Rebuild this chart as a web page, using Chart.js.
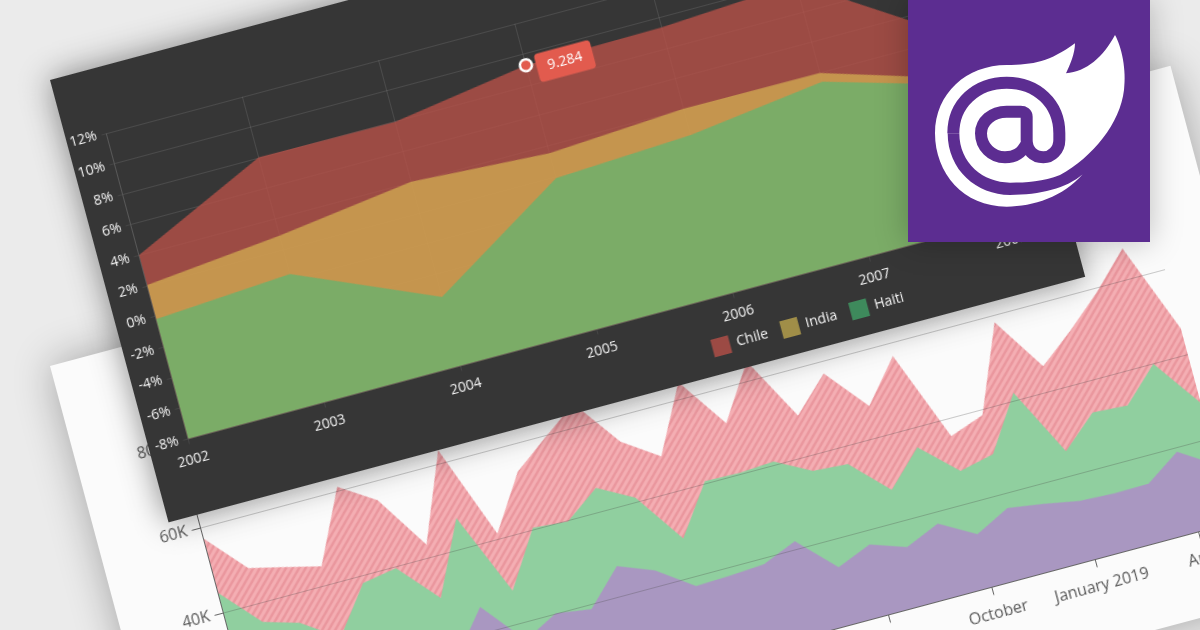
<!DOCTYPE html>
<html>
<head>
<meta charset="utf-8">
<script src="https://cdn.jsdelivr.net/npm/chart.js@4"></script>
<style>
  html, body { margin: 0; padding: 0; }
  body { width: 1200px; height: 630px; overflow: hidden; background: #ebebeb; position: relative; }
  .card { position: absolute; transform-origin: 0 0; transform: rotate(-15deg); }
  #lightCard { left: 50px; top: 366px; width: 1160px; height: 541px; background: #fbfbfb; box-shadow: 0 0 40px rgba(0,0,0,.3); }
  #darkCard { left: 49.5px; top: 80px; width: 949px; height: 458px; background: #363636; box-shadow: 0 0 30px rgba(0,0,0,.45); }
  #logo { position: absolute; left: 908px; top: 0; width: 242px; height: 242px; background: #5c2d91; box-shadow: 0 0 30px rgba(0,0,0,.25); }
  canvas { display: block; }
</style>
</head>
<body>
<div class="card" id="lightCard"><canvas id="lightChart" width="1160" height="541"></canvas></div>
<div class="card" id="darkCard"><canvas id="darkChart" width="949" height="458"></canvas></div>
<div id="logo">
  <svg width="242" height="242" viewBox="24 0 726 726">
    <path fill="#fff" d="M645 105C665 140 680 210 672 270C660 370 580 470 480 525C430 545 380 548 330 548C250 548 178 490 178 400L143 400C143 510 230 585 330 585C420 585 500 565 548 523C490 590 400 620 320 620C190 620 105 520 105 400C105 280 200 195 320 195C400 195 450 185 525 130C525 160 510 195 498 220C560 215 610 170 645 105Z"/>
    <path fill="none" stroke="#5c2d91" stroke-width="36" d="M160 400C160 310 230 248 320 248C410 248 478 310 478 400L478 420C478 450 455 472 430 472C400 472 380 450 380 420L380 350C380 340 372 335 362 335L320 335C275 335 243 365 243 400C243 440 275 472 315 472C345 472 365 460 380 430"/>
  </svg>
</div>
<script>
// dark chart
const years = ['2002', '2003', '2004', '2005', '2006', '2007', '2008'];
const chile = [4.03, 8.04, 7.97, 9.284, 9.37, 9.89, 4.06];
const india = [2.06, 2.92, 4.06, 3.53, 4.06, 4.0, 1.26];
const haiti = [-0.17, 0.41, -3.48, 1.9, 2.33, 3.44, 0.84];
const legendColors = ['#3e8a5c', '#a08e48', '#9c4a44'];

// light chart
const months = ['January 2017', 'February', 'March', 'April', 'May', 'June', 'July', 'August', 'September', 'October', 'November', 'December',
  'January 2018', 'February', 'March', 'April', 'May', 'June', 'July', 'August', 'September', 'October', 'November', 'December',
  'January 2019', 'February', 'March', 'April', 'May'];
const pinkValues = [57.6, 48.4, 46.4, 44.4, 61.1, 55.7, 43.0, 63.2, 41.2, 53.7, 59.7, 65.5, 54.3, 48.6, 64.0, 52.1, 64.6, 49.5, 57.3, 47.4, 57.1, 35.9, 38.7, 58.5, 45.9, 52.2, 59.2, 67.3, 46.1];
const greenValues = [44.7, 35.6, 33.2, 27.5, 38.2, 39.6, 30.3, 47.1, 27.7, 40.4, 39.7, 45.5, 41.0, 29.1, 40.5, 40.3, 40.8, 36.4, 35.8, 27.5, 35.4, 27.6, 29.4, 41.8, 25.7, 32.7, 32.2, 39.9, 28.4];
const purpleValues = [12, 14, 17, 15, 19, 18, 16.1, 26.0, 15.9, 20.1, 18.9, 26.9, 23.7, 17.8, 18.1, 18.6, 21.9, 13.5, 16.7, 13.9, 17.3, 12.6, 16.6, 15.4, 13.9, 13.5, 13.6, 19.0, 13.7];

const fontName = '"Open Sans", sans-serif';

// striped fill for the top area
function stripes() {
  const c = document.createElement('canvas');
  c.width = 8;
  c.height = 8;
  const g = c.getContext('2d');
  g.fillStyle = '#f4aeb3';
  g.fillRect(0, 0, 8, 8);
  g.strokeStyle = '#ea979e';
  g.lineWidth = 2.6;
  g.beginPath();
  g.moveTo(-2, 2); g.lineTo(2, -2);
  g.moveTo(-2, 10); g.lineTo(10, -2);
  g.moveTo(6, 10); g.lineTo(10, 6);
  g.stroke();
  return g.createPattern(c, 'repeat');
}

new Chart(document.getElementById('lightChart'), {
  type: 'line',
  data: {
    labels: months,
    datasets: [
      { label: 'Purple', data: purpleValues, backgroundColor: '#a997c1', fill: 'start' },
      { label: 'Green', data: greenValues, backgroundColor: '#90cf9f', fill: 'start' },
      { label: 'Pink', data: pinkValues, backgroundColor: stripes(), fill: 'start' }
    ]
  },
  options: {
    responsive: false,
    animation: false,
    events: [],
    elements: { point: { radius: 0 }, line: { borderWidth: 0, tension: 0 } },
    layout: { padding: { top: 108.6, right: 58 } },
    plugins: { legend: { display: false }, tooltip: { enabled: false } },
    scales: {
      x: {
        offset: false,
        afterBuildTicks: function (axis) { axis.ticks = axis.ticks.filter(t => t.value % 3 === 0); },
        afterFit: function (axis) { axis.height = 83.6; },
        grid: { drawOnChartArea: false, tickLength: 8, tickColor: '#666', z: 1 },
        border: { color: '#666', z: 2 },
        ticks: { autoSkip: false, maxRotation: 0, color: '#5a5a5a', padding: 9, font: { family: fontName, size: 16 } }
      },
      y: {
        min: 0,
        max: 80,
        afterFit: function (axis) { axis.width = 103.5; },
        grid: { color: 'rgba(70,70,70,.28)', tickColor: '#666', tickLength: 9, z: 1 },
        border: { color: '#666', z: 2 },
        ticks: { stepSize: 20, color: '#5a5a5a', padding: 5, font: { family: fontName, size: 16 }, callback: v => v + 'K' }
      }
    }
  }
});

Chart.Tooltip.positioners.pointLabel = function (items) {
  if (!items.length) return false;
  return { x: items[0].element.x, y: items[0].element.y + 6 };
};

const darkChart = new Chart(document.getElementById('darkChart'), {
  type: 'line',
  data: {
    labels: years,
    datasets: [
      { label: 'Haiti', data: haiti, backgroundColor: 'rgba(101,178,110,.78)', fill: 'start', pointRadius: 0 },
      { label: 'India', data: india, backgroundColor: 'rgba(207,169,81,.78)', fill: 'start', pointRadius: 0 },
      { label: 'Chile', data: chile, backgroundColor: 'rgba(185,81,72,.78)', fill: 'start',
        pointRadius: c => c.dataIndex === 3 ? 6 : 0, pointBackgroundColor: '#e25b4e', pointBorderColor: '#fff', pointBorderWidth: 2.5 }
    ]
  },
  plugins: [{
    id: 'moveLegend',
    afterLayout: function (chart) {
      const l = chart.legend;
      l.right = 570.5 + l.lineWidths[0];
      l.top = 422 - l.options.labels.padding;
    }
  }],
  options: {
    responsive: false,
    animation: false,
    events: [],
    elements: { line: { borderWidth: 0, tension: 0 } },
    layout: { padding: { top: 66, right: 62.5, bottom: 0 } },
    plugins: {
      legend: {
        position: 'bottom',
        align: 'end',
        reverse: true,
        labels: {
          boxWidth: 18,
          boxHeight: 18,
          padding: 14,
          color: '#f2f2f2',
          font: { family: fontName, size: 14 },
          generateLabels: function (chart) {
            const items = Chart.defaults.plugins.legend.labels.generateLabels(chart);
            items.forEach((it, i) => { it.fillStyle = legendColors[i]; it.strokeStyle = legendColors[i]; it.lineWidth = 0; });
            return items;
          }
        }
      },
      tooltip: {
        enabled: true,
        animation: false,
        position: 'pointLabel',
        xAlign: 'left',
        yAlign: 'center',
        caretSize: 0,
        caretPadding: 10,
        displayColors: false,
        backgroundColor: '#e25b4e',
        bodyColor: '#fff',
        cornerRadius: 4,
        padding: { x: 11, y: 6 },
        bodyFont: { family: fontName, size: 14 },
        callbacks: { title: () => '', label: c => c.parsed.y.toFixed(3) }
      }
    },
    scales: {
      x: {
        offset: false,
        afterFit: function (axis) { axis.height = 75.5 - axis.chart.legend.height; },
        grid: { color: 'rgba(255,255,255,.1)', tickColor: 'rgba(255,255,255,.07)', tickLength: 5 },
        border: { color: 'rgba(255,255,255,.08)' },
        ticks: { autoSkip: false, maxRotation: 0, color: '#f2f2f2', padding: 8, font: { family: fontName, size: 14 } }
      },
      y: {
        min: -8,
        max: 12,
        afterFit: function (axis) { axis.width = 40.5; },
        grid: { color: 'rgba(255,255,255,.1)', tickColor: 'rgba(255,255,255,.07)', tickLength: 5 },
        border: { color: 'rgba(255,255,255,.08)' },
        ticks: { stepSize: 2, color: '#f2f2f2', padding: 5, font: { family: fontName, size: 14 }, callback: v => v + '%' }
      }
    }
  }
});

darkChart.tooltip.setActiveElements([{ datasetIndex: 2, index: 3 }], { x: 0, y: 0 });
darkChart.render();
</script>
</body>
</html>
